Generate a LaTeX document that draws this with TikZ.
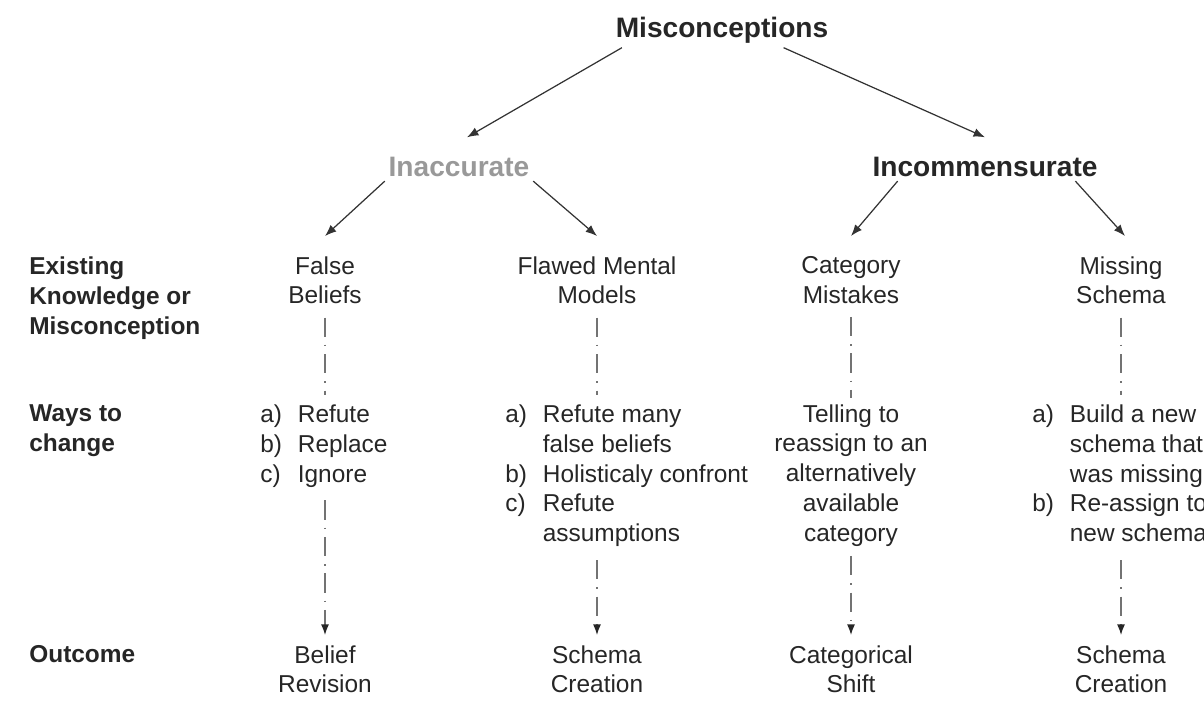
\documentclass[tikz,border=0pt]{standalone}
\usepackage{fontspec}
\setmainfont{Liberation Sans}
\usetikzlibrary{arrows.meta}

\begin{document}
\begin{tikzpicture}[auto]
      \tikzstyle{heading} = [
        font=\fontsize{16}{19}\selectfont\bfseries,
        text=black!85,
        anchor=base,
        inner sep=2pt
      ]

      \tikzstyle{rowlabel} = [
        font=\fontsize{13.9}{17}\selectfont\bfseries,
        text=black!85,
        align=left,
        anchor=north west,
        inner sep=0pt
      ]

      \tikzstyle{kind} = [
        font=\fontsize{13.9}{17}\selectfont,
        text=black!85,
        align=center,
        anchor=north,
        inner sep=0pt
      ]

      \tikzstyle{steps} = [
        font=\fontsize{13.9}{17}\selectfont,
        text=black!85,
        anchor=north west,
        inner sep=0pt
      ]

      \tikzstyle{branch} = [
        -{Latex[length=6.5pt,width=5pt]},
        draw=black!80,
        line width=0.7pt
      ]

      \tikzstyle{link} = [
        draw=black!55,
        line width=0.7pt,
        dash pattern=on 11pt off 4.5pt on 0.8pt off 4.5pt
      ]

      \tikzstyle{linkarrow} = [
        link,
        -{Latex[length=6pt,width=4.5pt,color=black!85]}
      ]

      \useasboundingbox (0,0) rectangle (24.08,14);

      \node[heading] (misc) at (14.44,13.24) {Misconceptions};
      \node[heading, text=black!40] (inacc) at (9.18,10.46) {Inaccurate};
      \node[heading] (incom) at (19.7,10.46) {Incommensurate};

      % row labels
      \node[rowlabel] (existing) at (0.58,8.87) {Existing\\Knowledge or\\Misconception};
      \node[rowlabel] (ways) at (0.58,5.91) {Ways to\\change};
      \node[rowlabel] (outcome) at (0.58,1.09) {Outcome};

      % existing knowledge
      \node[kind] (falsebel) at (6.5,8.88) {False\\Beliefs};
      \node[kind] (flawed) at (11.94,8.88) {Flawed Mental\\Models};
      \node[kind] (category) at (17.02,8.88) {Category\\Mistakes};
      \node[kind] (missing) at (22.42,8.88) {Missing\\Schema};

      % ways to change
      \node[steps] (change1) at (5.2,5.98) {\begin{tabular}{@{}l@{\hspace{9pt}}l@{}}
        a) & Refute\\ b) & Replace\\ c) & Ignore
      \end{tabular}};
      \node[steps] (change2) at (10.1,5.98) {\begin{tabular}{@{}l@{\hspace{9pt}}l@{}}
        a) & Refute many\\ & false beliefs\\ b) & Holisticaly confront\\
        c) & Refute\\ & assumptions
      \end{tabular}};
      \node[kind] (change3) at (17.02,5.92) {Telling to\\reassign to an\\alternatively\\available\\category};
      \node[steps] (change4) at (20.64,5.98) {\begin{tabular}{@{}l@{\hspace{9pt}}l@{}}
        a) & Build a new\\ & schema that\\ & was missing\\
        b) & Re-assign to\\ & new schema
      \end{tabular}};

      % outcomes
      \node[kind] (revision) at (6.5,1.1) {Belief\\Revision};
      \node[kind] (creation1) at (11.94,1.1) {Schema\\Creation};
      \node[kind] (shift) at (17.02,1.1) {Categorical\\Shift};
      \node[kind] (creation2) at (22.42,1.1) {Schema\\Creation};

      \draw[branch] ([xshift=0.2cm]misc.south west) -- ([xshift=0.16cm,yshift=0.33cm]inacc.north);
      \draw[branch] ([xshift=-0.97cm]misc.south east) -- ([yshift=0.33cm]incom.north);
      \draw[branch] (inacc.south west) -- ([yshift=0.4cm]falsebel.north);
      \draw[branch] (inacc.south east) -- ([yshift=0.4cm]flawed.north);
      \draw[branch] ([xshift=0.58cm]incom.south west) -- ([yshift=0.4cm]category.north);
      \draw[branch] ([xshift=-0.52cm]incom.south east) -- ([xshift=0.08cm,yshift=0.4cm]missing.north);

      \draw[link, shorten <=0.26cm, shorten >=0.12cm] (falsebel) -- (falsebel |- change1.north);
      \draw[link, shorten <=0.26cm, shorten >=0.12cm] (flawed) -- (flawed |- change2.north);
      \draw[link, shorten <=0.26cm, shorten >=0.12cm] (category) -- (change3);
      \draw[link, shorten <=0.26cm, shorten >=0.12cm] (missing) -- (missing |- change4.north);

      \draw[linkarrow, shorten <=0.18cm, shorten >=0.2cm] (change1.south -| revision) -- (revision);
      \draw[linkarrow, shorten <=0.18cm, shorten >=0.2cm] (change2.south -| creation1) -- (creation1);
      \draw[linkarrow, shorten <=0.18cm, shorten >=0.2cm] (change3) -- (shift);
      \draw[linkarrow, shorten <=0.18cm, shorten >=0.2cm] (change4.south -| creation2) -- (creation2);
    \end{tikzpicture}
\end{document}
